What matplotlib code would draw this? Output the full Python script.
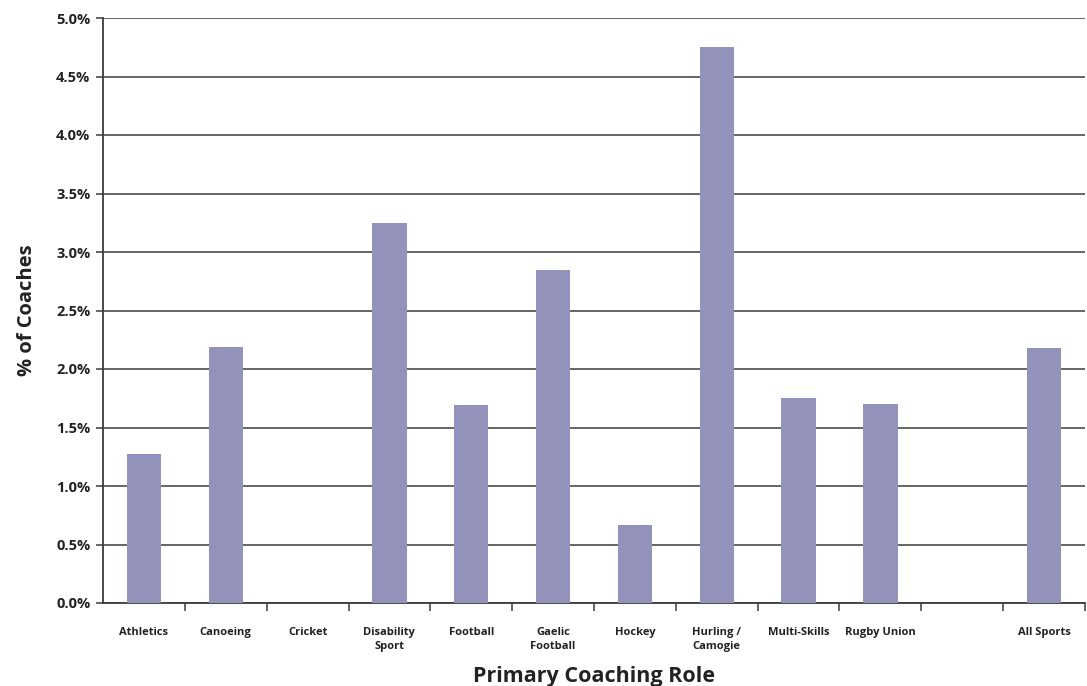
import matplotlib.pyplot as plt
from matplotlib.ticker import FuncFormatter

plt.rcParams['font.family'] = ['Open Sans', 'DejaVu Sans']

sports = ['Athletics', 'Canoeing', 'Cricket', 'Disability\nSport', 'Football',
          'Gaelic\nFootball', 'Hockey', 'Hurling /\nCamogie', 'Multi-Skills',
          'Rugby Union', '', 'All Sports']
pct = [1.27, 2.19, 0.0, 3.25, 1.69, 2.85, 0.67, 4.75, 1.75, 1.70, 0.0, 2.18]
yticks = [0.0, 0.5, 1.0, 1.5, 2.0, 2.5, 3.0, 3.5, 4.0, 4.5, 5.0]

fig = plt.figure(figsize=(10.87, 6.86), dpi=100)
ax = fig.add_axes([103 / 1087, 83 / 686, 982 / 1087, 585 / 686])

x = list(range(len(sports)))
ax.bar(x, pct, width=0.42, color='#9292ba', zorder=3)

ax.set_xlim(-0.5, len(sports) - 0.5)
ax.set_ylim(0, 5.0)
ax.set_yticks(yticks)
ax.yaxis.set_major_formatter(FuncFormatter(lambda v, p: '{:.1f}%'.format(v)))
ax.grid(axis='y', color='#3c3c3c', linewidth=1.1, zorder=1)

# category labels centred, tick marks on the boundaries
ax.set_xticks(x)
ax.set_xticklabels(sports, fontsize=8, fontweight='bold', color='#222222',
                   linespacing=1.45)
ax.tick_params(axis='x', which='major', length=0, pad=17)
ax.set_xticks([i + 0.5 for i in x], minor=True)
ax.tick_params(axis='x', which='minor', length=6, width=1.1, color='#3c3c3c')
ax.tick_params(axis='y', length=5, width=1.1, color='#3c3c3c', labelsize=10.5,
               pad=4)
for lab in ax.get_yticklabels():
    lab.set_fontweight('bold')
    lab.set_color('#222222')

for side in ['top', 'right']:
    ax.spines[side].set_visible(False)
for side in ['left', 'bottom']:
    ax.spines[side].set_color('#3c3c3c')
    ax.spines[side].set_linewidth(1.3)

ax.set_ylabel('% of Coaches', fontsize=14.5, fontweight='bold', color='#222222',
              labelpad=14)
ax.set_xlabel('Primary Coaching Role', fontsize=15.5, fontweight='bold',
              color='#222222', labelpad=10)

fig.savefig('out.png', dpi=100)
